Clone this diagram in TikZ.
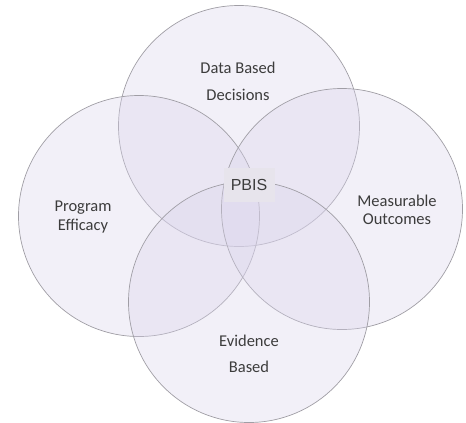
\documentclass[tikz,border=0pt]{standalone}
\usepackage{fontspec}
\setmainfont{Carlito}
\newfontfamily\boxfont{Liberation Sans}
\usepackage{tikz}
\usetikzlibrary{positioning}
\definecolor{setfill}{RGB}{218,212,235}
\definecolor{setline}{RGB}{160,158,165}
\definecolor{corefill}{RGB}{231,228,236}
\definecolor{settext}{RGB}{60,60,60}
\tikzset{%
  setcircle/.style={circle, draw=setline, line width=0.7pt, fill=setfill, fill opacity=0.35, minimum size=241pt, inner sep=0pt},
  setlabel/.style={font=\fontsize{16.5}{18}\selectfont, text=settext, align=center, inner sep=0pt},
  corebox/.style={fill=corefill, minimum width=51pt, minimum height=34pt, inner sep=0pt, font=\boxfont\fontsize{16}{18}\selectfont, text=settext}
}

\begin{document}
\begin{tikzpicture}[x=1pt,y=-1pt]
  \useasboundingbox (0,0) rectangle (466,423);
  \node[setcircle] (dbd) at (239,126) {};
  \node[setcircle] (pe) at (139,216) {};
  \node[setcircle] (mo) at (342,209) {};
  \node[setcircle] (eb) at (249,302) {};
  \node[setlabel] (dbdtop) at (238,68) {Data Based};
  \node[setlabel] (dbdbot) at (238,95) {Decisions};
  \node[setlabel, font=\fontsize{16.5}{18.5}\selectfont] (petext) at (83,217) {Program\\Efficacy};
  \node[setlabel, font=\fontsize{16.5}{18.5}\selectfont] (motext) at (397,210) {Measurable\\Outcomes};
  \node[setlabel] (ebtop) at (249,341) {Evidence};
  \node[setlabel] (ebbot) at (249,367) {Based};
  \node[corebox] (pbis) at (249,185) {PBIS};
\end{tikzpicture}
\end{document}
